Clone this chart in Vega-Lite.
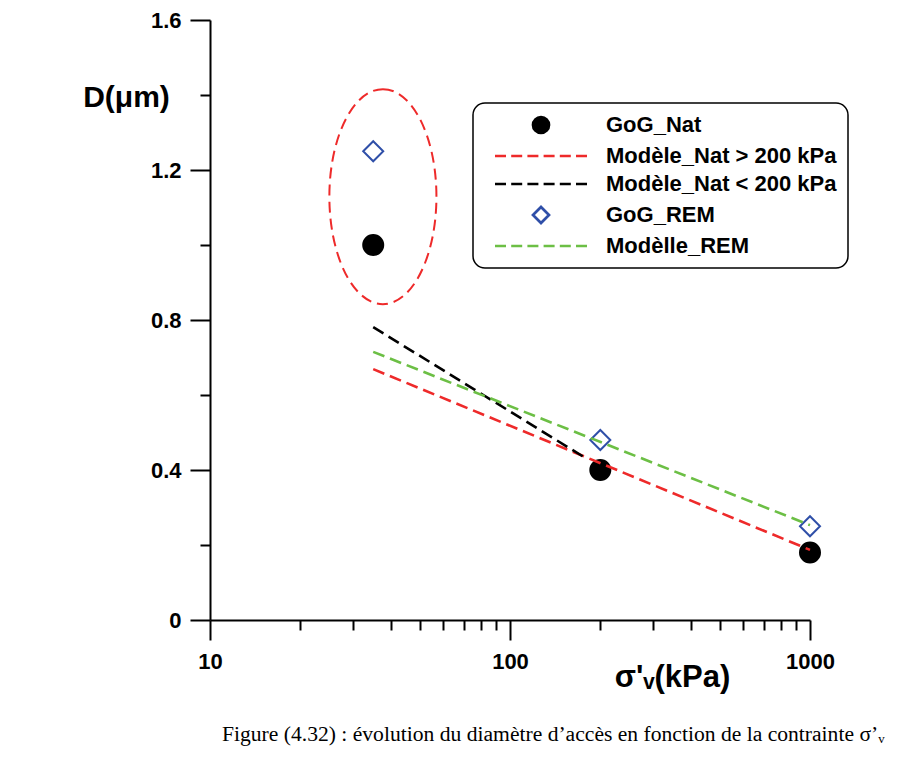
{
  "$schema": "https://vega.github.io/schema/vega-lite/v6.json",
  "width": 600,
  "height": 600,
  "autosize": {"type": "none"},
  "padding": {"left": 210, "top": 20, "right": 96, "bottom": 141},
  "background": "white",
  "title": {
    "text": "Figure (4.32) : évolution du diamètre d’accès en fonction de la contrainte σ’ᵥ",
    "orient": "bottom",
    "anchor": "start",
    "frame": "group",
    "font": "Liberation Serif",
    "fontSize": 21.6,
    "fontWeight": "normal",
    "color": "black",
    "offset": 32,
    "dx": 12
  },
  "datasets": {
    "pts": [
      {"s": 35, "d": 1.0, "series": "GoG_Nat"},
      {"s": 200, "d": 0.40, "series": "GoG_Nat"},
      {"s": 1000, "d": 0.18, "series": "GoG_Nat"},
      {"s": 35, "d": 1.25, "series": "GoG_REM"},
      {"s": 200, "d": 0.48, "series": "GoG_REM"},
      {"s": 1000, "d": 0.25, "series": "GoG_REM"}
    ],
    "lines": [
      {"s": 35, "d": 0.669, "series": "Modèle_Nat > 200 kPa"},
      {"s": 1000, "d": 0.187, "series": "Modèle_Nat > 200 kPa"},
      {"s": 35, "d": 0.781, "series": "Modèle_Nat < 200 kPa"},
      {"s": 181, "d": 0.429, "series": "Modèle_Nat < 200 kPa"},
      {"s": 35, "d": 0.715, "series": "Modèlle_REM"},
      {"s": 1000, "d": 0.253, "series": "Modèlle_REM"}
    ],
    "ell": [
      {"s": 37.7, "d": 1.129}
    ]
  },
  "resolve": {"axis": {"x": "independent", "y": "independent"}},
  "layer": [
    {
      "data": {"name": "ell"},
      "mark": {
        "type": "point",
        "shape": "M 0 -1 C 0.275 -1 0.498 -0.5523 0.498 0 C 0.498 0.5523 0.275 1 0 1 C -0.275 1 -0.498 0.5523 -0.498 0 C -0.498 -0.5523 -0.275 -1 0 -1 Z",
        "size": 46225,
        "filled": false,
        "stroke": "#ee2a2a",
        "strokeWidth": 2,
        "strokeDash": [11, 6],
        "opacity": 1
      },
      "encoding": {
        "x": {"field": "s", "type": "quantitative", "scale": {"type": "log", "domain": [10, 1000], "nice": false}, "axis": null},
        "y": {"field": "d", "type": "quantitative", "scale": {"domain": [0, 1.6], "nice": false}, "axis": null}
      }
    },
    {
      "data": {"name": "pts"},
      "mark": {"type": "point", "size": 400, "strokeWidth": 2, "opacity": 1},
      "encoding": {
        "x": {"field": "s", "type": "quantitative",
          "axis": {"orient": "bottom", "values": [20, 30, 40, 50, 60, 70, 80, 90, 200, 300, 400, 500, 600, 700, 800, 900], "tickSize": 10, "labels": false, "domain": false, "title": null}},
        "y": {"field": "d", "type": "quantitative",
          "axis": {"orient": "left", "values": [0.2, 0.6, 1.0, 1.4], "tickSize": 10, "labels": false, "domain": false, "title": null}},
        "shape": {
          "field": "series", "type": "nominal",
          "scale": {
            "domain": ["GoG_Nat", "Modèle_Nat > 200 kPa", "Modèle_Nat < 200 kPa", "GoG_REM", "Modèlle_REM"],
            "range": [
              "circle",
              "M -5.75 0 L -4.375 0 M -3.725 0 L -2.35 0 M -1.7 0 L -0.325 0 M 0.325 0 L 1.7 0 M 2.35 0 L 3.725 0 M 4.375 0 L 5.75 0",
              "M -5.75 0 L -4.375 0 M -3.725 0 L -2.35 0 M -1.7 0 L -0.325 0 M 0.325 0 L 1.7 0 M 2.35 0 L 3.725 0 M 4.375 0 L 5.75 0",
              "diamond",
              "M -5.75 0 L -4.375 0 M -3.725 0 L -2.35 0 M -1.7 0 L -0.325 0 M 0.325 0 L 1.7 0 M 2.35 0 L 3.725 0 M 4.375 0 L 5.75 0"
            ]
          },
          "legend": {
            "orient": "none", "legendX": 263, "legendY": 83, "title": null,
            "strokeColor": "black", "cornerRadius": 12, "fillColor": "white", "padding": 11,
            "labelFont": "Liberation Sans", "labelFontWeight": "bold", "labelFontSize": 22, "labelColor": "black",
            "symbolSize": 256, "symbolStrokeWidth": 2.7, "symbolOffset": 46, "labelOffset": 54, "rowPadding": 6,
            "labelLimit": 400
          }
        },
        "fill": {
          "field": "series", "type": "nominal",
          "scale": {
            "domain": ["GoG_Nat", "Modèle_Nat > 200 kPa", "Modèle_Nat < 200 kPa", "GoG_REM", "Modèlle_REM"],
            "range": ["black", "transparent", "transparent", "transparent", "transparent"]
          }
        },
        "stroke": {
          "field": "series", "type": "nominal",
          "scale": {
            "domain": ["GoG_Nat", "Modèle_Nat > 200 kPa", "Modèle_Nat < 200 kPa", "GoG_REM", "Modèlle_REM"],
            "range": ["black", "#ee2a2a", "black", "#2f4fa8", "#6cbf45"]
          }
        }
      }
    },
    {
      "data": {"name": "lines"},
      "mark": {"type": "line", "strokeWidth": 2.6, "strokeDash": [12, 6]},
      "encoding": {
        "x": {"field": "s", "type": "quantitative",
          "axis": {"orient": "bottom", "values": [10, 100, 1000], "format": "d", "tickSize": 20, "labelPadding": 11,
            "title": "σ'ᵥ(kPa)", "titleFontSize": 31, "titleFontWeight": "bold", "titleX": 462, "titleY": 66, "titleAlign": "center", "titleBaseline": "alphabetic"}},
        "y": {"field": "d", "type": "quantitative",
          "axis": {"orient": "left", "values": [0, 0.4, 0.8, 1.2, 1.6], "tickSize": 20, "labelPadding": 9,
            "labelExpr": "datum.value == 0 ? '0' : format(datum.value, '.1f')",
            "title": "D(μm)", "titleFontSize": 30, "titleFontWeight": "bold", "titleAngle": 0, "titleX": -84, "titleY": 86, "titleAlign": "center", "titleBaseline": "alphabetic"}},
        "stroke": {"field": "series", "type": "nominal", "legend": null},
        "detail": {"field": "series"}
      }
    }
  ],
  "config": {
    "view": {"stroke": null},
    "legend": {"strokeWidth": 1.5},
    "axis": {
      "domainColor": "black", "domainWidth": 2, "tickColor": "black", "tickWidth": 2,
      "labelFont": "Liberation Sans", "labelFontWeight": "bold", "labelFontSize": 22, "labelColor": "black",
      "labelFlush": false, "labelOverlap": false, "grid": false,
      "titleFont": "Liberation Sans", "titleColor": "black"
    }
  }
}
